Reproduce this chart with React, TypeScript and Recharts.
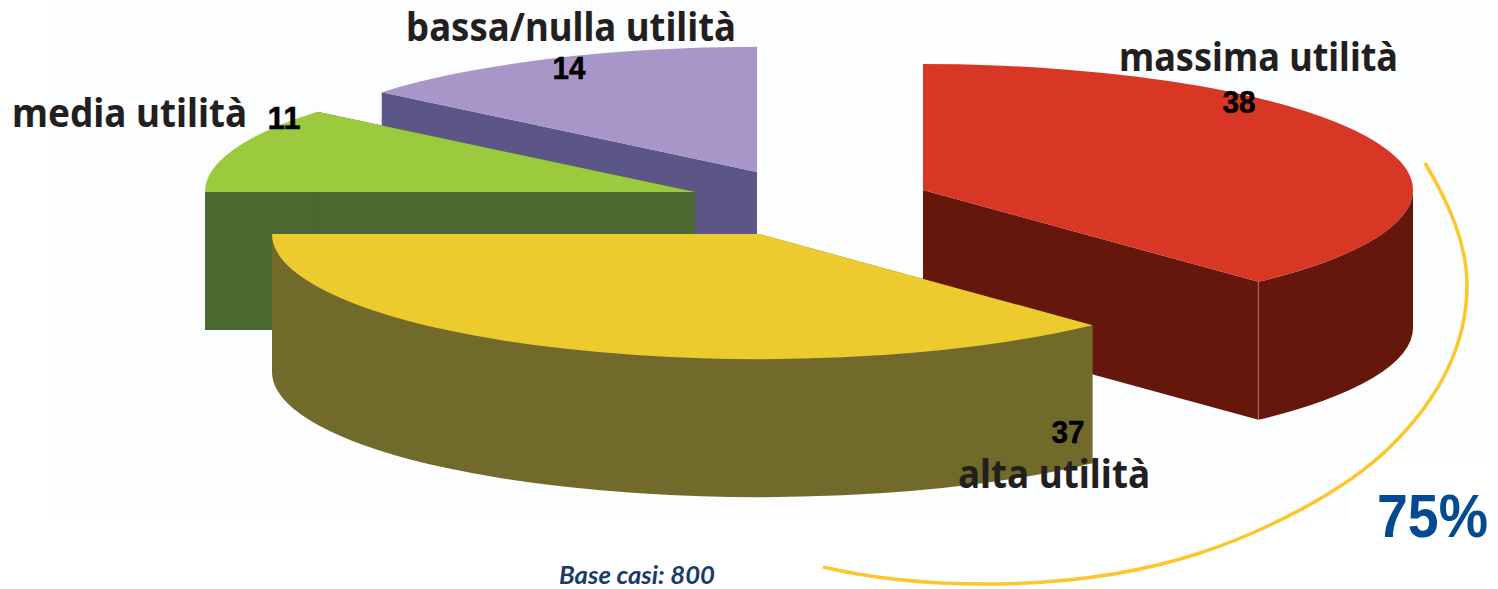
import { Pie, PieChart } from "recharts";

const categories = ["massima utilità", "alta utilità", "media utilità", "bassa/nulla utilità"];
const values = [38, 37, 11, 14];
const topColors = ["#d93726", "#edcb2e", "#9bca3e", "#a896c8"];
const wallColors = ["#66170c", "#716a2a", "#4a682f", "#5b5687"];

// where each exploded slice sits, relative to the pie centre
const sliceDx = [164, 0, -64, -2];
const sliceDy = [-44, 0, -42, -62];
const sliceRadius = [490, 487, 490, 487];
// back to front
const drawOrder = [3, 2, 0, 1];

const calloutLabel = "75%";
const baseLabel = "Base casi: 800";

const WIDTH = 1498;
const HEIGHT = 589;
const TILT = 0.257;
const DEPTH = 138;
const RAD = Math.PI / 180;

const nameX = [1119, 958, 12, 406];
const nameY = [71, 488, 127, 41];
const nameWidth = [279, 192, 235, 330];
const valueX = [1239, 1068, 284, 569];
const valueY = [113, 443, 129, 79];

const chartData = categories.map((name, i) => ({ name, value: values[i] }));

function Slice3D(props: any) {
  const { cx, cy, startAngle, endAngle, index } = props;
  const r = sliceRadius[index];
  const ry = r * TILT;
  const ox = cx + sliceDx[index];
  const oy = cy + sliceDy[index];
  const at = (deg: number, drop = 0) => ({
    x: ox + r * Math.cos(deg * RAD),
    y: oy - ry * Math.sin(deg * RAD) + drop
  });
  const a = at(startAngle);
  const b = at(endAngle);
  const top = `M${ox} ${oy} L${a.x} ${a.y} A${r} ${ry} 0 ${startAngle - endAngle > 180 ? 1 : 0} 1 ${b.x} ${b.y} Z`;
  const face = (p: { x: number; y: number }) =>
    `M${ox} ${oy} L${p.x} ${p.y} L${p.x} ${p.y + DEPTH} L${ox} ${oy + DEPTH} Z`;

  // rim wall only on the front half of the ellipse
  const wallStart = Math.min(startAngle, 0);
  const wallEnd = Math.max(endAngle, -180);
  let wall = null;
  if (wallStart > wallEnd) {
    const s = at(wallStart);
    const e = at(wallEnd);
    wall = (
      <path
        d={`M${s.x} ${s.y} A${r} ${ry} 0 0 1 ${e.x} ${e.y} L${e.x} ${e.y + DEPTH} A${r} ${ry} 0 0 0 ${s.x} ${s.y + DEPTH} Z`}
        fill={wallColors[index]}
      />
    );
  }

  return (
    <g>
      <path d={face(a)} fill={wallColors[index]} />
      <path d={face(b)} fill={wallColors[index]} />
      {wall}
      {index === 0 && <line x1={b.x} y1={b.y} x2={b.x} y2={b.y + DEPTH} stroke="#b0705a" strokeWidth={1.2} />}
      <path d={top} fill={topColors[index]} />
    </g>
  );
}

function SliceLabel(props: any) {
  const i = props.index;
  return (
    <g>
      <text
        x={valueX[i]}
        y={valueY[i]}
        textAnchor="middle"
        textLength={33}
        lengthAdjust="spacingAndGlyphs"
        fontFamily="'Liberation Sans', sans-serif"
        fontWeight={700}
        fontSize={31}
        stroke="#000"
        strokeWidth={0.5}
        fill="#000"
      >
        {values[i]}
      </text>
      <text
        x={nameX[i]}
        y={nameY[i]}
        textLength={nameWidth[i]}
        lengthAdjust="spacingAndGlyphs"
        fontFamily="'Noto Sans', sans-serif"
        fontWeight={700}
        fontSize={39}
        style={{ fontVariantLigatures: "none" }}
        fill="#231f20"
      >
        {categories[i]}
      </text>
    </g>
  );
}

export default function App() {
  return (
    <div style={{ position: "absolute", left: 0, top: 0, width: WIDTH, height: HEIGHT, background: "#fff" }}>
      <PieChart width={WIDTH} height={HEIGHT} margin={{ top: 0, right: 0, bottom: 0, left: 0 }}>
        <rect x={48} y={0} width={1438} height={458} fill="#fcfdfe" />
        <rect x={48} y={458} width={1300} height={62} fill="#fcfdfe" />
        {drawOrder.map((slice, n) => (
          <Pie
            key={slice}
            data={chartData}
            dataKey="value"
            nameKey="name"
            cx={759}
            cy={234}
            innerRadius={0}
            outerRadius={490}
            startAngle={90}
            endAngle={-270}
            stroke="none"
            isAnimationActive={false}
            labelLine={false}
            label={n === drawOrder.length - 1 ? SliceLabel : false}
            shape={(props: any) => (props.index === slice ? <Slice3D {...props} /> : <g />)}
          />
        ))}
        <path
          d="M1425 163 C1450 205 1467 245 1467 285 C1467 345 1438 400 1390 447 C1340 496 1255 535 1200 553 C1130 576 1060 584 985 584 C920 584 870 578 823 567"
          fill="none"
          stroke="#fcc72c"
          strokeWidth={3.5}
        />
        <text x={1377} y={537} fontFamily="'Liberation Sans', sans-serif" fontWeight={700} fontSize={61} fill="#034a90" textLength={111} lengthAdjust="spacingAndGlyphs">
          {calloutLabel}
        </text>
        <text x={559} y={584} fontFamily="Lato, sans-serif" fontWeight={700} fontStyle="italic" fontSize={24} fill="#1a3a6b" textLength={156} lengthAdjust="spacingAndGlyphs">
          {baseLabel}
        </text>
      </PieChart>
    </div>
  );
}
